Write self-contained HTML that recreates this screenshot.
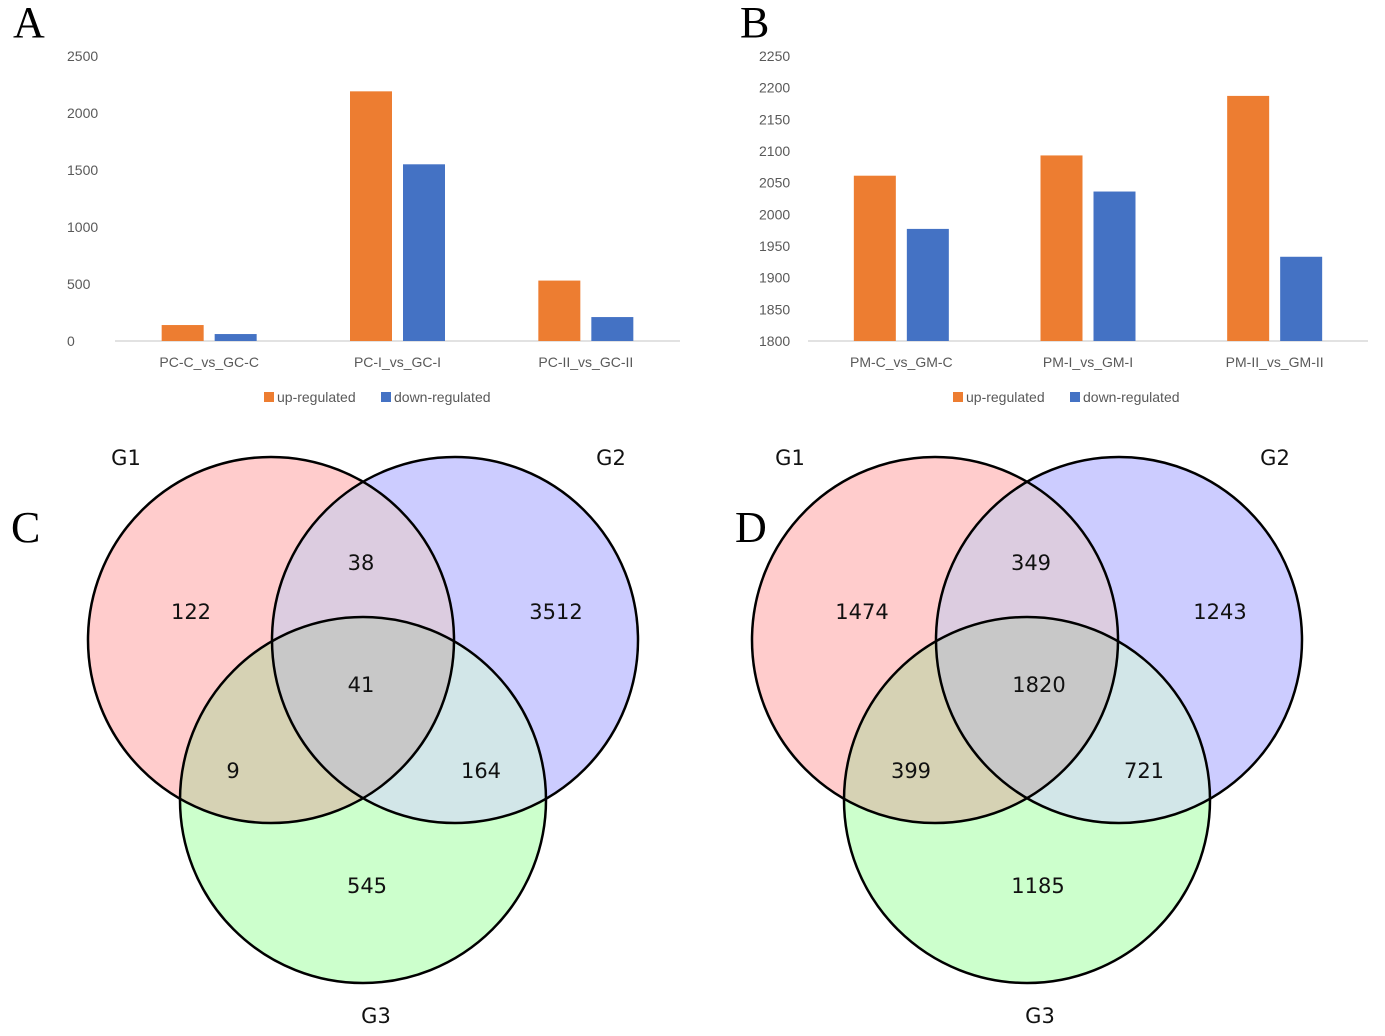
<!DOCTYPE html>
<html><head><meta charset="utf-8">
<style>
body{margin:0;background:#fff;}
svg{display:block;}
.tick{font-family:"Liberation Sans",sans-serif;font-size:14px;fill:#595959;}
.cat{font-family:"Liberation Sans",sans-serif;font-size:14px;fill:#595959;text-anchor:middle;}
.leg{font-family:"Liberation Sans",sans-serif;font-size:14px;fill:#595959;}
.panel{font-family:"Liberation Serif",serif;font-size:44px;fill:#000;}
.vnum{font-family:"DejaVu Sans","Liberation Sans",sans-serif;font-size:21px;fill:#111;text-anchor:middle;}
.vlab{font-family:"DejaVu Sans","Liberation Sans",sans-serif;font-size:21px;fill:#111;text-anchor:middle;}
</style></head>
<body>
<svg id="fig" width="1385" height="1036" viewBox="0 0 1385 1036">
<defs>
 <clipPath id="cC1"><circle cx="271" cy="640" r="183"/></clipPath>
 <clipPath id="cC2"><circle cx="455" cy="640" r="183"/></clipPath>
 <clipPath id="cD1"><circle cx="935" cy="640" r="183"/></clipPath>
 <clipPath id="cD2"><circle cx="1119" cy="640" r="183"/></clipPath>
</defs>
<text class="panel" x="13" y="37">A</text>
<text class="panel" x="740" y="37">B</text>
<text class="panel" x="11" y="542">C</text>
<text class="panel" x="735" y="542">D</text>
<g id="chartA"></g>
<g id="chartB"></g>
<g id="vennC"></g>
<g id="vennD"></g>
</svg>
<script>
const catsA = ["PC-C_vs_GC-C","PC-I_vs_GC-I","PC-II_vs_GC-II"];
const upA = [140, 2190, 530];
const downA = [61, 1550, 210];
const ticksA = [0,500,1000,1500,2000,2500];
const catsB = ["PM-C_vs_GM-C","PM-I_vs_GM-I","PM-II_vs_GM-II"];
const upB = [2061, 2093, 2187];
const downB = [1977, 2036, 1933];
const ticksB = [1800,1850,1900,1950,2000,2050,2100,2150,2200,2250];
const vennCVals = [122, 38, 3512, 41, 9, 164, 545];
const vennDVals = [1474, 349, 1243, 1820, 399, 721, 1185];

const NS="http://www.w3.org/2000/svg";
function mk(parent,tag,attrs,text){const e=document.createElementNS(NS,tag);for(const k in attrs)e.setAttribute(k,attrs[k]);if(text!==undefined)e.textContent=text;parent.appendChild(e);return e;}

function barChart(g,cats,up,down,ticks,cfg){
  const y=v=>cfg.y0-(v-cfg.min)/(cfg.max-cfg.min)*(cfg.y0-cfg.y1);
  ticks.forEach(t=>{
    const e=mk(g,"text",{class:"tick",x:cfg.tickX,y:y(t)+5},String(t));
    
    
  });
  const ax=mk(g,"line",{x1:cfg.ax0,x2:cfg.ax1,y1:cfg.y0,y2:cfg.y0,stroke:"#d9d9d9","stroke-width":1.5});
  
  
  const gw=(cfg.ax1-cfg.ax0)/cats.length;
  cats.forEach((c,i)=>{
    const cx=cfg.ax0+gw*(i+0.5);
    const r1=mk(g,"rect",{x:cx-cfg.bw-cfg.gap/2,y:y(up[i]),width:cfg.bw,height:cfg.y0-y(up[i]),fill:"#ed7d31"});
    
    
    const r2=mk(g,"rect",{x:cx+cfg.gap/2,y:y(down[i]),width:cfg.bw,height:cfg.y0-y(down[i]),fill:"#4472c4"});
    
    
    const t=mk(g,"text",{class:"cat",x:cx,y:cfg.y0+26},c);
    
    
  });
  const l1=mk(g,"rect",{x:cfg.legX,y:392,width:10,height:10,fill:"#ed7d31"});
  
  
  const l2=mk(g,"text",{class:"leg",x:cfg.legX+13,y:402},"up-regulated");
  
  
  const l3=mk(g,"rect",{x:cfg.legX+117,y:392,width:10,height:10,fill:"#4472c4"});
  
  
  const l4=mk(g,"text",{class:"leg",x:cfg.legX+130,y:402},"down-regulated");
  
  
}
barChart(document.getElementById("chartA"),catsA,upA,downA,ticksA,{min:0,max:2500,y0:341,y1:56,tickX:67,ax0:115,ax1:680,bw:42,gap:11,legX:264});
barChart(document.getElementById("chartB"),catsB,upB,downB,ticksB,{min:1800,max:2250,y0:341,y1:56,tickX:759,ax0:808,ax1:1368,bw:42,gap:11,legX:953});

function venn(g,ox,vals,c1,c2,pos){
  const cx1=ox,cx2=ox+184,cx3=ox+92,cy=640,cy3=800,r=183;
  const fills=[["#ffcccc",cx1,cy],["#ccccff",cx2,cy],["#ccffcc",cx3,cy3]];
  fills.forEach(f=>{const e=mk(g,"circle",{cx:f[1],cy:f[2],r:r,fill:f[0]});
    
    });
  const ov=[["#dccce0",c1,cx2,cy],["#d6d2b4",c1,cx3,cy3],["#d2e6e8",c2,cx3,cy3]];
  ov.forEach(o=>{const e=mk(g,"circle",{cx:o[2],cy:o[3],r:r,fill:o[0],"clip-path":"url(#"+o[1]+")"});
    
    });
  const gi=mk(g,"g",{"clip-path":"url(#"+c1+")"});
  const e2=mk(gi,"circle",{cx:cx3,cy:cy3,r:r,fill:"#c8c8c8","clip-path":"url(#"+c2+")"});
  
  
  [[cx1,cy],[cx2,cy],[cx3,cy3]].forEach(p=>{const e=mk(g,"circle",{cx:p[0],cy:p[1],r:r,fill:"none",stroke:"#000","stroke-width":2.5});
    
    });
  vals.forEach((v,i)=>{const t=mk(g,"text",{class:"vnum",x:ox+pos[i][0],y:640+pos[i][1]+8},String(v));
    
    });
  const labs=[["G1",-145,465],["G2",340,465],["G3",105,1023]];
  labs.forEach(l=>{const t=mk(g,"text",{class:"vlab",x:ox+l[1],y:l[2]},l[0]);
    
    });
}
venn(document.getElementById("vennC"),271,vennCVals,"cC1","cC2",[[-80,-29],[90,-78],[285,-29],[90,44],[-38,130],[210,130],[96,245]]);
venn(document.getElementById("vennD"),935,vennDVals,"cD1","cD2",[[-73,-29],[96,-78],[285,-29],[104,44],[-24,130],[209,130],[103,245]]);
</script>
</body></html>
